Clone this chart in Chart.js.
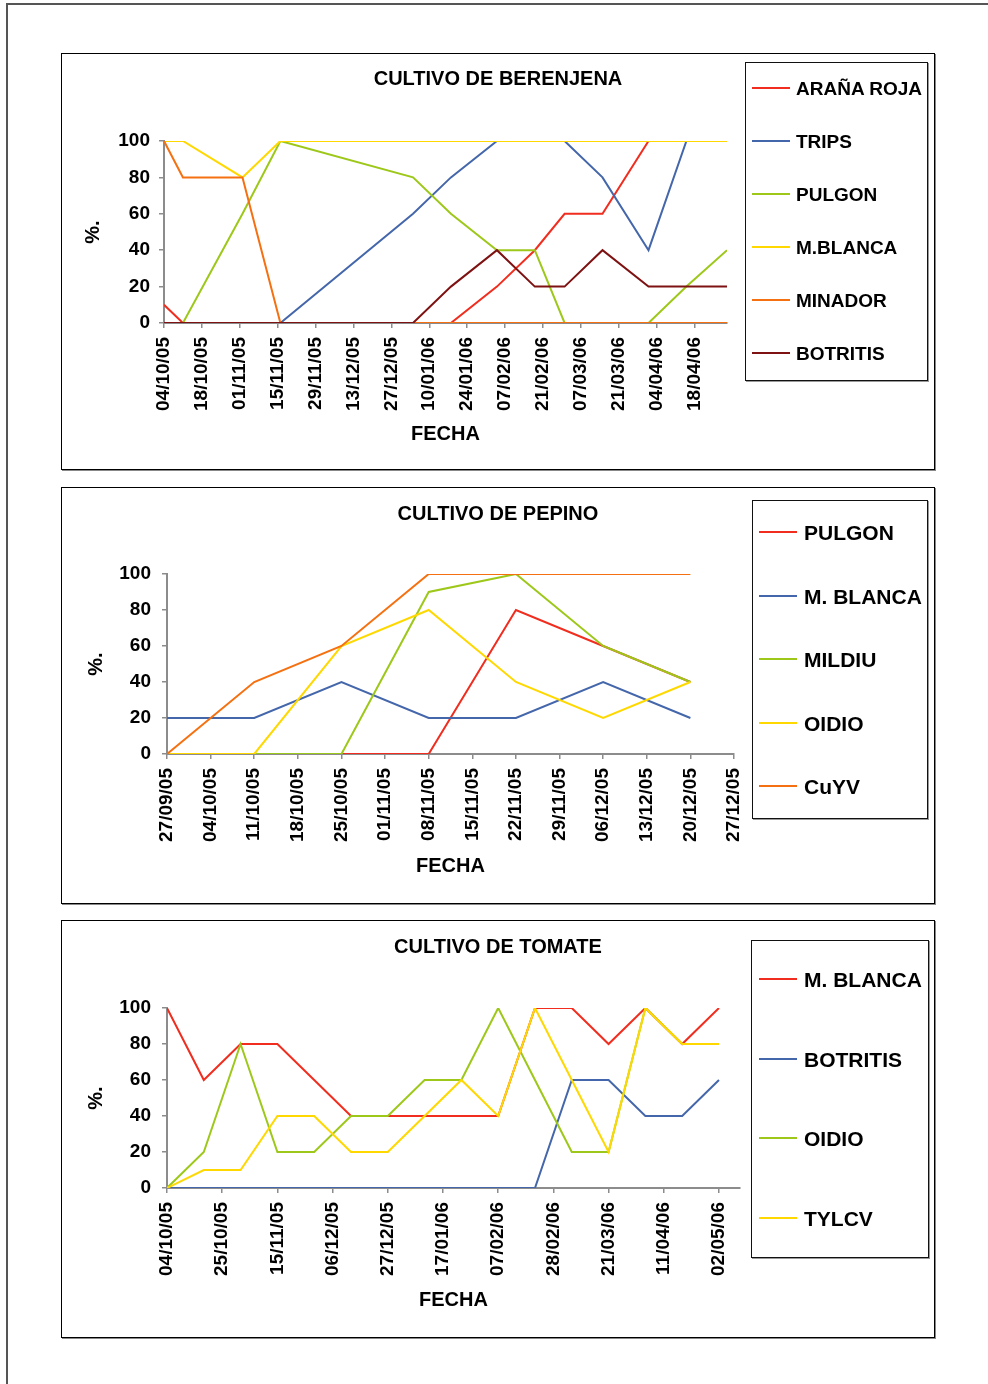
<!DOCTYPE html>
<html>
<head>
<meta charset="utf-8">
<script src="https://cdn.jsdelivr.net/npm/chart.js@4.4.1/dist/chart.umd.min.js"></script>
<style>
  html, body { margin: 0; padding: 0; background: #fff; }
  body { font-family: "Liberation Sans", Arial, sans-serif; }
  #page { position: relative; width: 988px; height: 1384px; overflow: hidden; background: #fff; }
  .frame { position: absolute; left: 6px; top: 3px; width: 1100px; height: 1500px;
           border-left: 2px solid #555; border-top: 2px solid #555; }
  .box { position: absolute; border: 1px solid #000; box-shadow: 1px 1px 0 #888; box-sizing: border-box; }
  .wrap { position: absolute; }
  .ctitle { position: absolute; width: 600px; text-align: center; font-weight: bold; font-size: 20px;
            line-height: 24px; height: 24px; color: #000; white-space: nowrap; }
  .legend { position: absolute; border: 1px solid #111; box-shadow: 1px 1px 0 #999; box-sizing: border-box; background: #fff; }
  .item { position: absolute; display: flex; align-items: center; font-weight: bold; color: #000; white-space: nowrap; }
  .item .ln { display: inline-block; width: 38px; height: 2px; }
</style>
</head>
<body>
<div id="page">
  <div class="frame"></div>
  <div class="box" style="left:61px;top:53px;width:874px;height:417px;"></div>
  <div class="box" style="left:61px;top:487px;width:874px;height:417px;"></div>
  <div class="box" style="left:61px;top:920px;width:874px;height:418px;"></div>
  <div class="wrap" style="left:61px;top:53px;width:874px;height:417px;"><canvas id="c1"></canvas></div>
  <div class="wrap" style="left:61px;top:487px;width:874px;height:417px;"><canvas id="c2"></canvas></div>
  <div class="wrap" style="left:61px;top:920px;width:874px;height:418px;"><canvas id="c3"></canvas></div>
  <div class="ctitle" id="t1" style="left:198px;top:66px;"></div>
  <div class="ctitle" id="t2" style="left:198px;top:501px;"></div>
  <div class="ctitle" id="t3" style="left:198px;top:934px;"></div>
  <div class="legend" id="lg1" style="left:745px;top:62px;width:183px;height:319px;"></div>
  <div class="legend" id="lg2" style="left:752px;top:500px;width:176px;height:319px;"></div>
  <div class="legend" id="lg3" style="left:751px;top:940px;width:178px;height:318px;"></div>
</div>
<script>
// ---------------- DATA ----------------
// CULTIVO DE BERENJENA
const berenjenaTitle = 'CULTIVO DE BERENJENA';
const berenjenaDates = ['04/10/05','11/10/05','02/11/05','16/11/05','04/01/06','18/01/06','04/02/06','18/02/06','01/03/06','15/03/06','01/04/06','15/04/06','30/04/06'];
const berenjenaTicks = ['04/10/05','18/10/05','01/11/05','15/11/05','29/11/05','13/12/05','27/12/05','10/01/06','24/01/06','07/02/06','21/02/06','07/03/06','21/03/06','04/04/06','18/04/06'];
const berenjenaLabels = ['ARAÑA ROJA','TRIPS','PULGON','M.BLANCA','MINADOR','BOTRITIS'];
const berAranaRoja = [10, 0, 0, 0, 0, 0, 20, 40, 60, 60, 100, 100, 100];
const berTrips     = [0, 0, 0, 0, 60, 80, 100, 100, 100, 80, 40, 100, 100];
const berPulgon    = [0, 0, 60, 100, 80, 60, 40, 40, 0, 0, 0, 20, 40];
const berMBlanca   = [100, 100, 80, 100, 100, 100, 100, 100, 100, 100, 100, 100, 100];
const berMinador   = [100, 80, 80, 0, 0, 0, 0, 0, 0, 0, 0, 0, 0];
const berBotritis  = [0, 0, 0, 0, 0, 20, 40, 20, 20, 40, 20, 20, 20];
const berenjenaRange = ['04/10/05', '30/04/06'];

// CULTIVO DE PEPINO
const pepinoTitle = 'CULTIVO DE PEPINO';
const pepinoDates = ['27/09/05','11/10/05','25/10/05','08/11/05','22/11/05','06/12/05','20/12/05'];
const pepinoTicks = ['27/09/05','04/10/05','11/10/05','18/10/05','25/10/05','01/11/05','08/11/05','15/11/05','22/11/05','29/11/05','06/12/05','13/12/05','20/12/05','27/12/05'];
const pepinoLabels = ['PULGON','M. BLANCA','MILDIU','OIDIO','CuYV'];
const pepPulgon  = [0, 0, 0, 0, 80, 60, 40];
const pepMBlanca = [20, 20, 40, 20, 20, 40, 20];
const pepMildiu  = [0, 0, 0, 90, 100, 60, 40];
const pepOidio   = [0, 0, 60, 80, 40, 20, 40];
const pepCuYV    = [0, 40, 60, 100, 100, 100, 100];
const pepinoRange = ['27/09/05', '27/12/05'];

// CULTIVO DE TOMATE
const tomateTitle = 'CULTIVO DE TOMATE';
const tomateDates = ['04/10/05','18/10/05','01/11/05','15/11/05','29/11/05','13/12/05','27/12/05','10/01/06','24/01/06','07/02/06','21/02/06','07/03/06','21/03/06','04/04/06','18/04/06','02/05/06'];
const tomateTicks = ['04/10/05','25/10/05','15/11/05','06/12/05','27/12/05','17/01/06','07/02/06','28/02/06','21/03/06','11/04/06','02/05/06'];
const tomateLabels = ['M. BLANCA','BOTRITIS','OIDIO','TYLCV'];
const tomMBlanca  = [100, 60, 80, 80, 60, 40, 40, 40, 40, 40, 100, 100, 80, 100, 80, 100];
const tomBotritis = [0, 0, 0, 0, 0, 0, 0, 0, 0, 0, 0, 60, 60, 40, 40, 60];
const tomOidio    = [0, 20, 80, 20, 20, 40, 40, 60, 60, 100, 60, 20, 20, 100, 80, 80];
const tomTYLCV    = [0, 10, 10, 40, 40, 20, 20, 40, 60, 40, 100, 60, 20, 100, 80, 80];
const tomateRange = ['04/10/05', '10/05/06'];

const yTicks = [0, 20, 40, 60, 80, 100];

// ---------------- STYLE ----------------
const C = { red: '#F02D1E', blue: '#4466AA', green: '#9DC81A', yellow: '#FFD800', orange: '#F57010', brown: '#7E1212' };
const FONT = '"Liberation Sans", Arial, sans-serif';
Chart.defaults.font.family = FONT;
Chart.defaults.color = '#000';

function dayNum(s) {
  const p = s.split('/').map(Number);
  return Date.UTC(2000 + p[2], p[1] - 1, p[0]) / 86400000;
}

function makeChart(id, o) {
  const n = o.series.length;
  const datasets = o.series.map((s, i) => ({
    label: s.label,
    data: o.dates.map((d, k) => ({ x: dayNum(d), y: s.data[k] })),
    borderColor: s.color,
    backgroundColor: s.color,
    borderWidth: 2,
    pointRadius: 0,
    pointHoverRadius: 0,
    tension: 0,
    fill: false,
    order: n - i
  }));
  const tickVals = o.ticks.map(dayNum);
  new Chart(document.getElementById(id), {
    type: 'line',
    data: { datasets },
    options: {
      responsive: true,
      maintainAspectRatio: false,
      animation: false,
      events: [],
      layout: { padding: { left: 0, right: o.padRight, top: o.padTop, bottom: 0 } },
      plugins: {
        legend: { display: false },
        tooltip: { enabled: false },
        title: { display: false }
      },
      scales: {
        x: {
          type: 'linear',
          min: dayNum(o.range[0]),
          max: dayNum(o.range[1]),
          afterBuildTicks: (sc) => { sc.ticks = tickVals.map(v => ({ value: v })); },
          afterFit: (sc) => { sc.height = o.xAxisHeight; },
          ticks: {
            autoSkip: false,
            minRotation: 90,
            maxRotation: 90,
            padding: 9,
            color: '#000',
            font: { size: 19, weight: 'bold', family: FONT },
            callback: (v, i) => o.ticks[i]
          },
          grid: { display: true, drawOnChartArea: false, drawTicks: true, tickLength: 5, color: '#8c8c8c', lineWidth: 1.5 },
          border: { display: true, color: '#8c8c8c', width: 2 },
          title: {
            display: true, text: 'FECHA', color: '#000',
            font: { size: 20, weight: 'bold', family: FONT, lineHeight: 1.2 },
            padding: { top: 0, bottom: o.xTitlePad }
          }
        },
        y: {
          min: 0,
          max: 100,
          afterBuildTicks: (sc) => { sc.ticks = yTicks.map(v => ({ value: v })); },
          afterFit: (sc) => { sc.width = o.yAxisWidth; },
          ticks: {
            padding: o.yTickPad,
            color: '#000',
            font: { size: 19, weight: 'bold', family: FONT }
          },
          grid: { display: true, drawOnChartArea: false, drawTicks: true, tickLength: 5, color: '#8c8c8c', lineWidth: 1.5 },
          border: { display: true, color: '#8c8c8c', width: 2 },
          title: {
            display: true, text: '%.', color: '#000',
            font: { size: 20, weight: 'bold', family: FONT, lineHeight: 1.2 },
            padding: { top: o.yTitlePad, bottom: 0 }
          }
        }
      }
    }
  });
}

function makeLegend(id, o) {
  const el = document.getElementById(id);
  const r = el.getBoundingClientRect();
  const page = document.getElementById('page').getBoundingClientRect();
  const boxLeft = r.left - page.left, boxTop = r.top - page.top;
  o.series.forEach((s, i) => {
    const it = document.createElement('div');
    it.className = 'item';
    it.style.fontSize = o.fontSize + 'px';
    it.style.lineHeight = o.fontSize + 'px';
    it.style.height = o.fontSize + 'px';
    it.style.left = (o.lineX - boxLeft - 1) + 'px';
    it.style.top = (o.centers[i] - boxTop - 1 - o.fontSize / 2) + 'px';
    const ln = document.createElement('span');
    ln.className = 'ln';
    ln.style.background = s.color;
    ln.style.marginRight = o.gap + 'px';
    const tx = document.createElement('span');
    tx.textContent = s.label;
    it.appendChild(ln);
    it.appendChild(tx);
    el.appendChild(it);
  });
}

const ser1 = [
  { label: berenjenaLabels[0], data: berAranaRoja, color: C.red },
  { label: berenjenaLabels[1], data: berTrips, color: C.blue },
  { label: berenjenaLabels[2], data: berPulgon, color: C.green },
  { label: berenjenaLabels[3], data: berMBlanca, color: C.yellow },
  { label: berenjenaLabels[4], data: berMinador, color: C.orange },
  { label: berenjenaLabels[5], data: berBotritis, color: C.brown }
];
const ser2 = [
  { label: pepinoLabels[0], data: pepPulgon, color: C.red },
  { label: pepinoLabels[1], data: pepMBlanca, color: C.blue },
  { label: pepinoLabels[2], data: pepMildiu, color: C.green },
  { label: pepinoLabels[3], data: pepOidio, color: C.yellow },
  { label: pepinoLabels[4], data: pepCuYV, color: C.orange }
];
const ser3 = [
  { label: tomateLabels[0], data: tomMBlanca, color: C.red },
  { label: tomateLabels[1], data: tomBotritis, color: C.blue },
  { label: tomateLabels[2], data: tomOidio, color: C.green },
  { label: tomateLabels[3], data: tomTYLCV, color: C.yellow }
];

document.getElementById('t1').textContent = berenjenaTitle;
document.getElementById('t2').textContent = pepinoTitle;
document.getElementById('t3').textContent = tomateTitle;

makeChart('c1', {
  series: ser1, dates: berenjenaDates, ticks: berenjenaTicks, range: berenjenaRange,
  padRight: 208, padTop: 88, yAxisWidth: 103, xAxisHeight: 147,
  xTitlePad: 24, yTitlePad: 20, yTickPad: 9
});
makeChart('c2', {
  series: ser2, dates: pepinoDates, ticks: pepinoTicks, range: pepinoRange,
  padRight: 201, padTop: 87, yAxisWidth: 106, xAxisHeight: 150,
  xTitlePad: 26, yTitlePad: 23, yTickPad: 11
});
makeChart('c3', {
  series: ser3, dates: tomateDates, ticks: tomateTicks, range: tomateRange,
  padRight: 195, padTop: 88, yAxisWidth: 106, xAxisHeight: 150,
  xTitlePad: 26, yTitlePad: 23, yTickPad: 11
});

makeLegend('lg1', { series: ser1, centers: [88, 141, 194, 247, 300, 353], lineX: 752, fontSize: 19, gap: 6 });
makeLegend('lg2', { series: ser2, centers: [532, 596, 659, 723, 786], lineX: 759, fontSize: 21, gap: 7 });
makeLegend('lg3', { series: ser3, centers: [979, 1059, 1138, 1218], lineX: 759, fontSize: 21, gap: 7 });
</script>
</body>
</html>
